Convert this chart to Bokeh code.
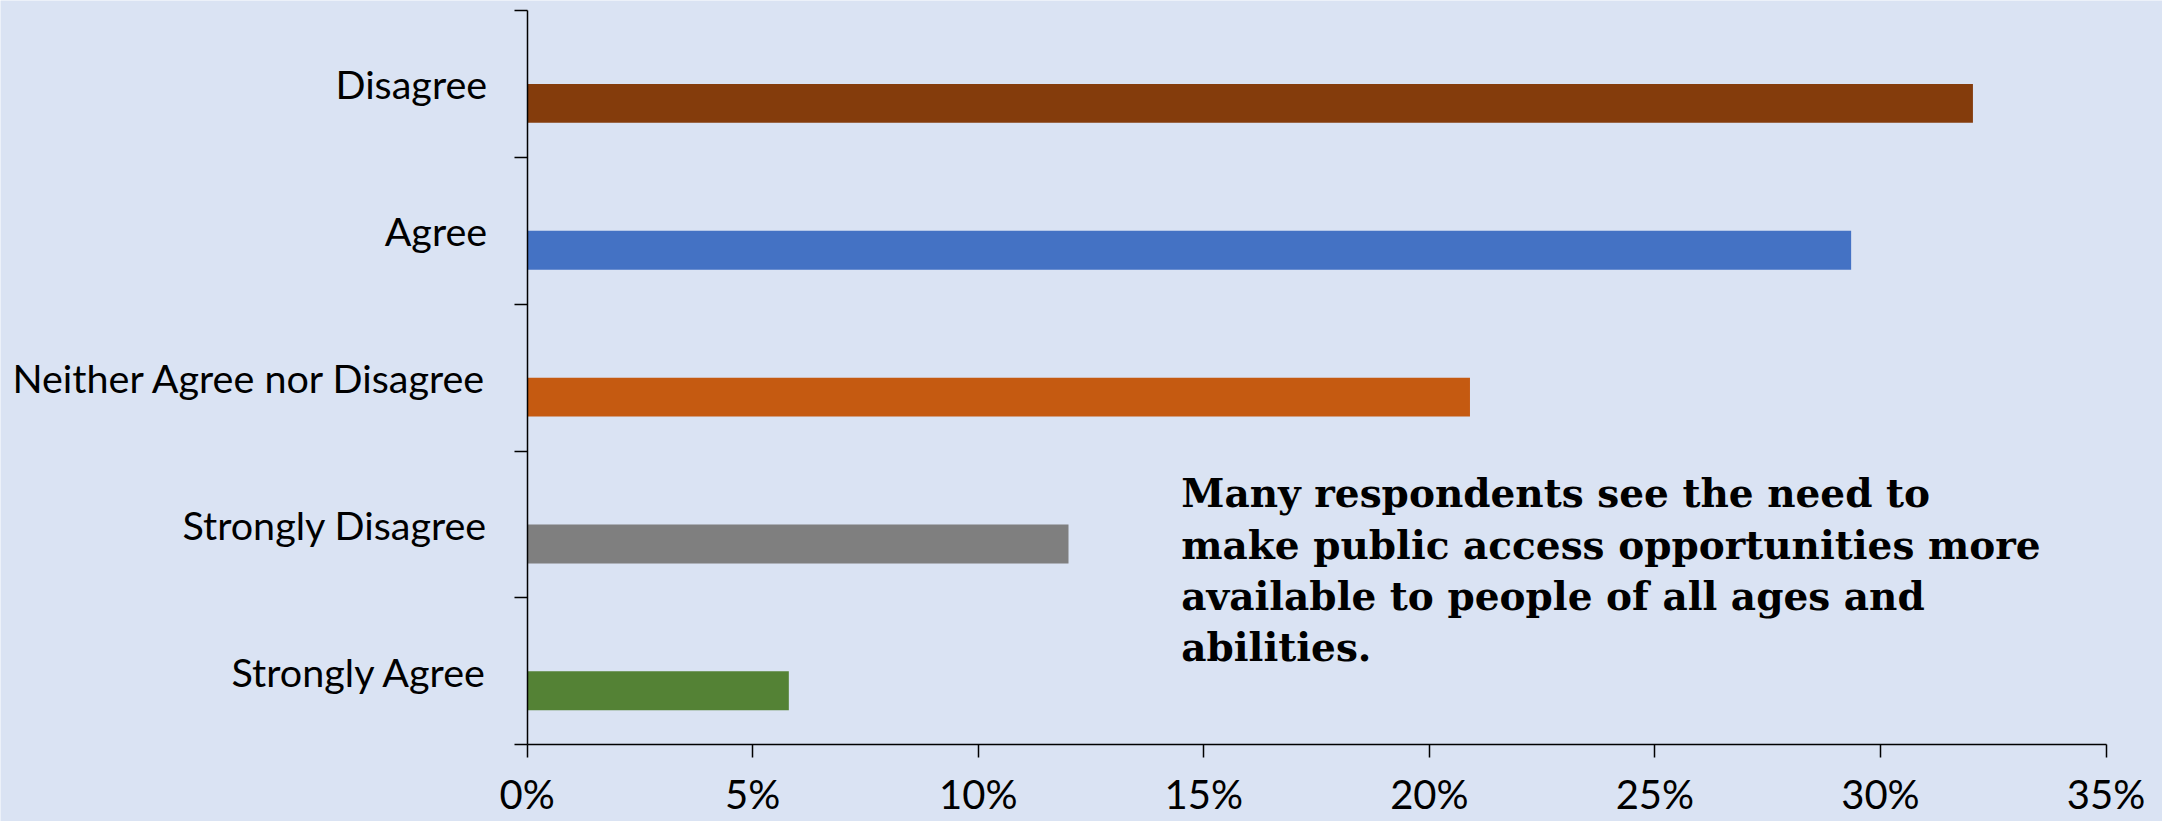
from bokeh.plotting import figure
from bokeh.models import FixedTicker, Label, Range1d, ColumnDataSource
from bokeh.embed import file_html
from bokeh.resources import INLINE

# ---- data (bottom to top) ----
categories = ["Strongly Agree", "Strongly Disagree", "Neither Agree nor Disagree", "Agree", "Disagree"]
values = [5.8, 12.0, 20.9, 29.35, 32.05]   # percent of respondents
colors = ["#548235", "#7F7F7F", "#C55A11", "#4472C4", "#843C0C"]
x_ticks = [0, 5, 10, 15, 20, 25, 30, 35]
x_tick_labels = ["0%", "5%", "10%", "15%", "20%", "25%", "30%", "35%"]
note_lines = [
    "Many respondents see the need to",
    "make public access opportunities more",
    "available to people of all ages and",
    "abilities.",
]

BG = "#DAE3F3"
AXIS_FONT = "Lato"
n = len(categories)

# category i occupies [i, i+1]; Excel puts the single series bar just below the centre
bar_h = 0.265
ys = [i + 0.5 - bar_h / 2 for i in range(n)]

src = ColumnDataSource(dict(cat=categories, val=values, y=ys, color=colors))

# The frame covers the whole canvas; both axes are pinned at 0 and bounded to the data area
p = figure(width=2162, height=821, output_backend="svg", toolbar_location=None,
           x_range=Range1d(-11.676, 36.2525), y_range=Range1d(-0.5223, n + 0.068),
           min_border_left=0, min_border_right=0, min_border_top=0, min_border_bottom=0)

p.hbar(y="y", left=0, right="val", height=bar_h, color="color", line_color=None, source=src)

p.background_fill_color = BG
p.border_fill_color = BG
p.outline_line_color = None
p.xgrid.grid_line_color = None
p.ygrid.grid_line_color = None

# x axis
xa = p.xaxis[0]
xa.fixed_location = 0
xa.bounds = (x_ticks[0], x_ticks[-1])
xa.ticker = FixedTicker(ticks=x_ticks, minor_ticks=[])
xa.major_label_overrides = {t: l for t, l in zip(x_ticks, x_tick_labels)}
xa.axis_line_color = "#000000"
xa.axis_line_width = 1.5
xa.major_tick_line_color = "#000000"
xa.major_tick_line_width = 1.5
xa.major_tick_out = 13
xa.major_tick_in = 0
xa.major_label_standoff = 12
xa.major_label_text_font = AXIS_FONT
xa.major_label_text_font_size = "40px"
xa.major_label_text_color = "#000000"

# y axis: labels at category centres, tick marks at category boundaries
ya = p.yaxis[0]
ya.fixed_location = 0
ya.bounds = (0, n)
centres = [i + 0.5 for i in range(n)]
ya.ticker = FixedTicker(ticks=centres, minor_ticks=list(range(n + 1)))
ya.major_label_overrides = {c: cat for c, cat in zip(centres, categories)}
ya.axis_line_color = "#000000"
ya.axis_line_width = 1.5
ya.major_tick_line_color = None
ya.major_tick_out = 0
ya.major_tick_in = 0
ya.minor_tick_line_color = "#000000"
ya.minor_tick_line_width = 1.5
ya.minor_tick_out = 13
ya.minor_tick_in = 0
ya.major_label_standoff = 27
ya.major_label_text_font = AXIS_FONT
ya.major_label_text_font_size = "39.5px"
ya.major_label_text_color = "#000000"

note = Label(x=14.5, y=1.868, text="\n".join(note_lines),
             text_font="DejaVu Serif", text_font_style="bold", text_font_size="39px",
             text_color="#000000", text_baseline="top", text_align="left",
             text_line_height=1.116)
p.add_layout(note)

open("out.html", "w").write(file_html(p, INLINE))
